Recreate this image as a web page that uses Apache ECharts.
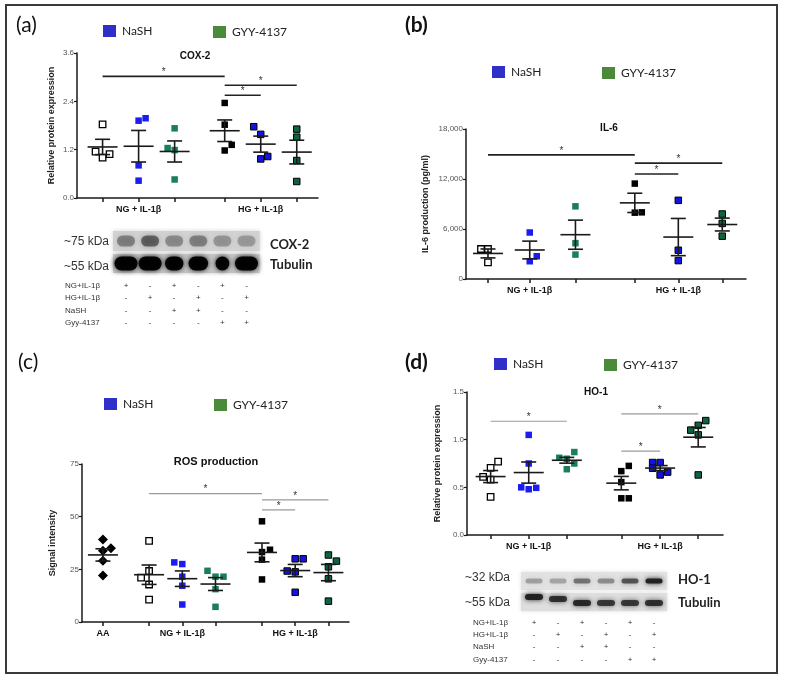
<!DOCTYPE html>
<html lang="en">
<head>
<meta charset="UTF-8">
<title>COX-2, IL-6, ROS, HO-1</title>
<script src="https://cdn.jsdelivr.net/npm/echarts@6/dist/echarts.min.js"></script>
<style>
  html, body { margin: 0; padding: 0; background: #fff; }
  #paint { width: 785px; height: 680px; }
</style>
</head>
<body>
<div id="paint"></div>
<script>
// ---- data ----
var groupLabels = ['NG + IL-1\u03b2', 'HG + IL-1\u03b2'];

// (a) COX-2, relative protein expression (NG, NG+NaSH, NG+GYY, HG, HG+NaSH, HG+GYY)
var cox2 = [
  [1.83, 1.15, 1.00, 1.09],
  [1.92, 1.98, 0.81, 0.43],
  [1.73, 1.24, 1.19, 0.46],
  [2.36, 1.82, 1.32, 1.18],
  [1.77, 1.58, 0.97, 1.03],
  [1.71, 1.51, 0.93, 0.41]
];
var cox2Jitter = [[0, -1, 0, 1], [0, 1, 0, 0], [0, -1, 0, 0], [0, 0, 1, 0], [-1, 0, 0, 1], [0, 0, 0, 0]];
var cox2Sig = [[0, 3, 3.02], [3, 5, 2.80], [3, 4, 2.55]];

// (b) IL-6 production (pg/ml)
var il6 = [
  [3600, 3600, 2000],
  [5580, 2730, 2130],
  [8720, 4300, 2930],
  [11450, 7960, 8000],
  [9440, 3450, 2210],
  [7800, 6670, 5140]
];
var il6Jitter = [[-1, 0, 0], [0, 1, 0], [0, 0, 0], [0, 0, 1], [0, 0, 0], [0, 0, 0]];
var il6Sig = [[0, 3, 14900], [3, 5, 13900], [3, 4, 12600]];

// (c) ROS production, signal intensity (AA first)
var ros = [
  [39.2, 35.0, 33.8, 29.1, 22.1],
  [38.5, 24.2, 21.1, 17.8, 10.6],
  [28.3, 27.5, 21.5, 17.2, 8.3],
  [24.3, 21.5, 21.5, 15.6, 7.2],
  [47.8, 34.3, 33.2, 29.6, 20.2],
  [30.0, 30.0, 24.2, 23.8, 14.1],
  [31.8, 28.9, 26.2, 20.5, 9.9]
];
var rosJitter = [[0, 1, 0, 0, 0], [0, 0, -1, 0, 0], [-1, 0, 0, 0, 0], [-1, 0, 1, 0, 0], [0, 1, 0, 0, 0], [0, 1, -1, 0, 0], [0, 1, 0, 0, 0]];
var rosSig = [[1, 4, 60.9], [4, 6, 58.0], [4, 5, 53.2]];

// (d) HO-1, relative protein expression
var ho1 = [
  [0.77, 0.705, 0.61, 0.58, 0.40],
  [1.05, 0.75, 0.50, 0.48, 0.495],
  [0.87, 0.81, 0.80, 0.75, 0.69],
  [0.725, 0.67, 0.555, 0.385, 0.385],
  [0.76, 0.76, 0.70, 0.63, 0.66],
  [1.10, 1.15, 1.20, 1.05, 0.63]
];
var ho1Jitter = [[1, 0, -1, 0, 0], [0, 0, -1, 0, 1], [1, -1, 0, 1, 0], [1, 0, 0, 0, 1], [-1, 0, -1, 0, 1], [-1, 0, 1, 0, 0]];
var ho1Sig = [[0, 2, 1.193], [3, 5, 1.27], [3, 4, 0.879]];

// western blot lanes and treatment table
var blotRows = ['NG+IL-1\u03b2', 'HG+IL-1\u03b2', 'NaSH', 'Gyy-4137'];
var blotSigns = [
  ['+', '-', '+', '-', '+', '-'],
  ['-', '+', '-', '+', '-', '+'],
  ['-', '-', '+', '+', '-', '-'],
  ['-', '-', '-', '-', '+', '+']
];
var cox2Band = [0.40, 0.55, 0.35, 0.40, 0.30, 0.28];
var tubulinBandA = [1.0, 1.0, 0.8, 0.85, 0.6, 1.0];
var ho1Band = [0.30, 0.28, 0.50, 0.38, 0.65, 0.95];
var tubulinBandD = [0.95, 0.85, 0.9, 0.8, 0.8, 0.85];

// ---- styles ----
var FONT = 'Liberation Sans, Arial, sans-serif';
var CAL = 'Lato, "Open Sans", sans-serif';
var markStyle = {
  aa:     { symbol: 'diamond', size: 10, item: { color: '#000', opacity: 1 } },
  ng:     { symbol: 'rect', size: 6.5, item: { color: '#fff', borderColor: '#000', borderWidth: 1.3, opacity: 1 } },
  ngNa:   { symbol: 'rect', size: 6.5, item: { color: '#1c1cf0', opacity: 1 } },
  ngGyy:  { symbol: 'rect', size: 6.5, item: { color: '#1a7d5c', opacity: 1 } },
  hg:     { symbol: 'rect', size: 6.5, item: { color: '#000', opacity: 1 } },
  hgNa:   { symbol: 'rect', size: 6.5, item: { color: '#1414e0', borderColor: '#000', borderWidth: 1, opacity: 1 } },
  hgGyy:  { symbol: 'rect', size: 6.5, item: { color: '#0f6440', borderColor: '#000', borderWidth: 1, opacity: 1 } }
};
var sixMarks = ['ng', 'ngNa', 'ngGyy', 'hg', 'hgNa', 'hgGyy'];

var panels = [
  { values: cox2, jitter: cox2Jitter, sig: cox2Sig, marks: sixMarks,
    grid: { left: 77, top: 53, width: 241, height: 145 }, max: 6.69,
    pos: [0.71, 1.71, 2.71, 4.1, 5.1, 6.1], step: 7, labelAt: [1, 4], labels: groupLabels,
    ymax: 3.6, yint: 1.2, yfmt: function (v) { return v.toFixed(1); },
    name: 'Relative protein expression', nameGap: 21, sigColor: '#222', sigWidth: 1.6 },
  { values: il6, jitter: il6Jitter, sig: il6Sig, marks: sixMarks,
    grid: { left: 466, top: 129, width: 280, height: 150 }, max: 6.37,
    pos: [0.5, 1.45, 2.49, 3.84, 4.83, 5.83], step: 7, labelAt: [1, 4], labels: groupLabels,
    ymax: 18000, yint: 6000, yfmt: function (v) { return v.toLocaleString('en-US'); },
    name: 'IL-6 production (pg/ml)', nameGap: 36, sigColor: '#222', sigWidth: 1.6 },
  { values: ros, jitter: rosJitter, sig: rosSig, marks: ['aa'].concat(sixMarks),
    grid: { left: 82, top: 464, width: 267, height: 158 }, max: 8.04,
    pos: [0.63, 2.02, 3.02, 4.02, 5.42, 6.42, 7.42], step: 8, labelAt: [0, 2, 5], labels: ['AA'].concat(groupLabels),
    ymax: 75, yint: 25, yfmt: function (v) { return String(v); },
    name: 'Signal intensity', nameGap: 25, sigColor: '#9a9a9a', sigWidth: 1.2 },
  { values: ho1, jitter: ho1Jitter, sig: ho1Sig, marks: sixMarks,
    grid: { left: 467, top: 392, width: 256, height: 143 }, max: 6.72,
    pos: [0.62, 1.62, 2.62, 4.05, 5.07, 6.07], step: 7.5, labelAt: [1, 4], labels: groupLabels,
    ymax: 1.5, yint: 0.5, yfmt: function (v) { return v.toFixed(1); },
    name: 'Relative protein expression', nameGap: 25, sigColor: '#9a9a9a', sigWidth: 1.2 }
];

function meanSem(arr) {
  var n = arr.length, m = 0, s = 0;
  arr.forEach(function (v) { m += v; });
  m /= n;
  arr.forEach(function (v) { s += (v - m) * (v - m); });
  return [m, Math.sqrt(s / (n - 1)) / Math.sqrt(n)];
}

function errRender(params, api) {
  var x = api.value(0), m = api.value(1), s = api.value(2);
  var c = api.coord([x, m]), hi = api.coord([x, m + s]), lo = api.coord([x, m - s]);
  var st = { stroke: '#1a1a1a', lineWidth: 1.6 };
  return { type: 'group', children: [
    { type: 'line', shape: { x1: c[0] - 15, y1: c[1], x2: c[0] + 15, y2: c[1] }, style: st },
    { type: 'line', shape: { x1: c[0], y1: hi[1], x2: c[0], y2: lo[1] }, style: st },
    { type: 'line', shape: { x1: c[0] - 7.5, y1: hi[1], x2: c[0] + 7.5, y2: hi[1] }, style: st },
    { type: 'line', shape: { x1: c[0] - 7.5, y1: lo[1], x2: c[0] + 7.5, y2: lo[1] }, style: st }
  ] };
}

function sigRenderer(color, width) {
  return function (params, api) {
    var a = api.coord([api.value(0), api.value(2)]);
    var b = api.coord([api.value(1), api.value(2)]);
    return { type: 'group', children: [
      { type: 'line', shape: { x1: a[0], y1: a[1], x2: b[0], y2: b[1] }, style: { stroke: color, lineWidth: width } },
      { type: 'text', x: (a[0] + b[0]) / 2, y: a[1] + 1, style: { text: '*', fill: '#333', font: '10px ' + FONT, align: 'center', verticalAlign: 'bottom' } }
    ] };
  };
}

var grids = [], xAxes = [], yAxes = [], series = [];
var axisLine = { lineStyle: { color: '#1a1a1a', width: 1.5 } };

panels.forEach(function (p, gi) {
  grids.push(p.grid);
  var labelVals = p.labelAt.map(function (i) { return p.pos[i]; });
  xAxes.push({
    gridIndex: gi, type: 'value', min: 0, max: p.max,
    axisLine: axisLine,
    axisTick: { customValues: p.pos, length: 4, lineStyle: { color: '#1a1a1a', width: 1.5 } },
    axisLabel: {
      customValues: labelVals, margin: 7, fontSize: 9, fontWeight: 'bold', color: '#111', fontFamily: FONT,
      formatter: function (v) { return p.labels[labelVals.indexOf(v)]; }
    },
    splitLine: { show: false }
  });
  yAxes.push({
    gridIndex: gi, type: 'value', min: 0, max: p.ymax, interval: p.yint,
    axisLine: { show: true, lineStyle: { color: '#1a1a1a', width: 1.5 } },
    axisTick: { show: true, length: 3, lineStyle: { color: '#1a1a1a', width: 1.2 } },
    axisLabel: { fontSize: 8, color: '#555', margin: 3, fontFamily: FONT, formatter: p.yfmt },
    splitLine: { show: false },
    name: p.name, nameLocation: 'middle', nameGap: p.nameGap,
    nameTextStyle: { fontSize: 9, fontWeight: 'bold', color: '#222', fontFamily: FONT }
  });
  var unit = p.max / p.grid.width;
  var errs = [];
  p.values.forEach(function (vals, g) {
    var ms = markStyle[p.marks[g]];
    series.push({
      type: 'scatter', xAxisIndex: gi, yAxisIndex: gi, silent: true, z: 2,
      symbol: ms.symbol, symbolSize: ms.size, itemStyle: ms.item,
      data: vals.map(function (v, j) { return [p.pos[g] + p.jitter[g][j] * p.step * unit, v]; })
    });
    var r = meanSem(vals);
    errs.push([p.pos[g], r[0], r[1]]);
  });
  series.push({ type: 'custom', xAxisIndex: gi, yAxisIndex: gi, silent: true, z: 3,
    renderItem: errRender, encode: { x: 0, y: 1 }, data: errs });
  series.push({ type: 'custom', xAxisIndex: gi, yAxisIndex: gi, silent: true, z: 3,
    renderItem: sigRenderer(p.sigColor, p.sigWidth), encode: { x: [0, 1], y: 2 },
    data: p.sig.map(function (s) { return [p.pos[s[0]], p.pos[s[1]], s[2]]; }) });
});

// ---- decorations: frame, panel letters, legends, titles, blots ----
var gfx = [];
function txt(x, y, text, font, fill, align) {
  gfx.push({ type: 'text', x: x, y: y, silent: true, style: { text: text, font: font, fill: fill || '#222', align: align || 'left', verticalAlign: 'middle' } });
}
function legend(x, y) {
  gfx.push({ type: 'rect', silent: true, shape: { x: x, y: y - 6, width: 13, height: 12 }, style: { fill: '#3030c8' } });
  txt(x + 19, y, 'NaSH', '12px ' + CAL, '#222');
  gfx.push({ type: 'rect', silent: true, shape: { x: x + 110, y: y - 5, width: 13, height: 12 }, style: { fill: '#4a8a38' } });
  txt(x + 129, y + 1, 'GYY-4137', '12px ' + CAL, '#222');
}
function blot(x0, step, rowTop, rowH, bg, strengths, bandW, bandH, shade, yShift) {
  gfx.push({ type: 'rect', silent: true, shape: { x: x0 - 13, y: rowTop, width: step * 6 + 2, height: rowH },
    style: { fill: bg, shadowBlur: 4, shadowColor: bg } });
  strengths.forEach(function (s, i) {
    var cx = x0 + i * step, cy = rowTop + rowH / 2 + (yShift ? yShift[i] : 0);
    var w = bandW * (shade ? 1 : s), h = bandH;
    var col = shade ? 'rgba(30,30,30,' + s + ')' : 'rgba(0,0,0,0.95)';
    gfx.push({ type: 'rect', silent: true, shape: { x: cx - w / 2, y: cy - h / 2, width: w, height: h, r: h / 2 },
      style: { fill: col, shadowBlur: 5, shadowColor: col } });
  });
}
function table(xLabel, x0, step, y0, dy) {
  blotRows.forEach(function (r, ri) {
    txt(xLabel, y0 + ri * dy, r, '8px ' + FONT, '#333');
    blotSigns[ri].forEach(function (s, ci) {
      txt(x0 + ci * step, y0 + ri * dy, s, '8px ' + FONT, '#333', 'center');
    });
  });
}

gfx.push({ type: 'rect', silent: true, shape: { x: 6, y: 5, width: 771, height: 668 }, style: { fill: 'none', stroke: '#3a3a3a', lineWidth: 2 } });
txt(16, 25, '(a)', '21px ' + CAL, '#111');
txt(405, 25, '(b)', 'bold 21px ' + CAL, '#111');
txt(18, 362, '(c)', '21px ' + CAL, '#111');
txt(405, 362, '(d)', 'bold 21px ' + CAL, '#111');
legend(103, 31);
legend(492, 72);
legend(104, 404);
legend(494, 364);
txt(195, 56, 'COX-2', 'bold 10px ' + FONT, '#111', 'center');
txt(609, 128, 'IL-6', 'bold 10px ' + FONT, '#111', 'center');
txt(216, 462, 'ROS production', 'bold 11px ' + FONT, '#111', 'center');
txt(596, 392, 'HO-1', 'bold 10px ' + FONT, '#111', 'center');

// (a) blot
blot(126, 24.1, 231, 20, '#d2d2d2', cox2Band, 18, 11, true);
blot(126, 24.1, 254, 19, '#c4c4c4', tubulinBandA, 23, 14, false);
txt(64, 242, '~75 kDa', '12px ' + FONT, '#333');
txt(64, 267, '~55 kDa', '12px ' + FONT, '#333');
txt(270, 245, 'COX-2', 'bold 13px ' + CAL, '#222');
txt(270, 265, 'Tubulin', 'bold 13px ' + CAL, '#222');
table(65, 126, 24.1, 286, 12.2);

// (d) blot
blot(534, 24, 572, 18, '#e2e2e2', ho1Band, 17, 5, true);
blot(534, 24, 593, 18, '#dedede', tubulinBandD, 18, 6, true, [-5, -3, 1, 1, 1, 1]);
txt(465, 578, '~32 kDa', '12px ' + FONT, '#333');
txt(465, 603, '~55 kDa', '12px ' + FONT, '#333');
txt(678, 580, 'HO-1', 'bold 13px ' + CAL, '#222');
txt(678, 603, 'Tubulin', 'bold 13px ' + CAL, '#222');
table(473, 534, 24, 622.5, 12.3);

var chart = echarts.init(document.getElementById('paint'), null, { renderer: 'canvas' });
chart.setOption({
  animation: false,
  backgroundColor: '#fff',
  grid: grids,
  xAxis: xAxes,
  yAxis: yAxes,
  series: series,
  graphic: gfx
});
</script>
</body>
</html>
